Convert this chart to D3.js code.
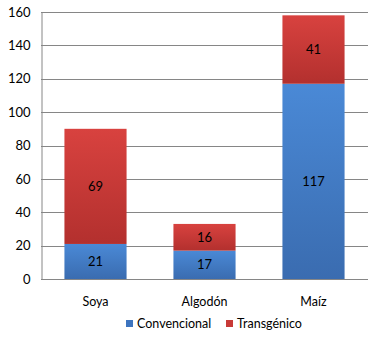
<!DOCTYPE html>
<html>
<head>
<meta charset="utf-8">
<script src="https://cdnjs.cloudflare.com/ajax/libs/d3/7.8.5/d3.min.js"></script>
<style>
  html, body { margin: 0; padding: 0; background: #fff; }
  text { font-family: Lato, "Open Sans", "Liberation Sans", sans-serif; }
</style>
</head>
<body>
<svg id="chart" width="377" height="342"></svg>
<script>
// Cultivos y superficie por tipo de semilla
const categories = ["Soya", "Algodón", "Maíz"];
const convencional = [21, 17, 117];
const transgenico = [69, 16, 41];
const seriesNames = ["Convencional", "Transgénico"];
const yTicks = [0, 20, 40, 60, 80, 100, 120, 140, 160];

const svg = d3.select("#chart");
const margin = { left: 41, right: 9, top: 12, bottom: 63 };
const W = 377, H = 342;
const FS = 12.5;

const x = d3.scaleBand()
  .domain(categories)
  .range([margin.left, W - margin.right])
  .paddingInner(0.43)
  .paddingOuter(0.215);

const y = d3.scaleLinear()
  .domain([0, 160])
  .range([H - margin.bottom, margin.top]);

// vertical gradients for the two series
const defs = svg.append("defs");
function grad(id, top, bottom) {
  const g = defs.append("linearGradient").attr("id", id)
    .attr("x1", 0).attr("y1", 0).attr("x2", 0).attr("y2", 1);
  g.append("stop").attr("offset", "0%").attr("stop-color", top);
  g.append("stop").attr("offset", "100%").attr("stop-color", bottom);
}
grad("gBlue", "#4a89d6", "#3a6cb0");
grad("gRed", "#d8423f", "#b3302e");
const fills = ["url(#gBlue)", "url(#gRed)"];
const swatch = ["#3d74bf", "#c83a37"];

// gridlines
svg.append("g")
  .selectAll("line")
  .data(yTicks)
  .join("line")
  .attr("x1", margin.left)
  .attr("x2", W - margin.right)
  .attr("y1", d => Math.round(y(d)) + 0.5)
  .attr("y2", d => Math.round(y(d)) + 0.5)
  .attr("stroke", "#868686")
  .attr("stroke-width", 1);

// y axis
const yAxis = d3.axisLeft(y).tickValues(yTicks).tickSize(0).tickPadding(11);
const ya = svg.append("g")
  .attr("transform", `translate(${margin.left + 0.5},0)`)
  .call(yAxis);
ya.select(".domain").attr("stroke", "#868686");
ya.selectAll("text").attr("font-size", 13).attr("fill", "#000")
  .style("font-family", "Lato, 'Open Sans', sans-serif");

// stacked data
const rows = categories.map((c, i) => ({ cat: c, Convencional: convencional[i], "Transgénico": transgenico[i] }));
const stacked = d3.stack().keys(seriesNames)(rows);

const barG = svg.append("g");
stacked.forEach((layer, si) => {
  barG.selectAll(null)
    .data(layer)
    .join("rect")
    .attr("x", d => x(d.data.cat))
    .attr("width", x.bandwidth())
    .attr("y", d => y(d[1]))
    .attr("height", d => y(d[0]) - y(d[1]))
    .attr("fill", fills[si]);

  barG.selectAll(null)
    .data(layer)
    .join("text")
    .attr("x", d => x(d.data.cat) + x.bandwidth() / 2)
    .attr("y", d => (y(d[0]) + y(d[1])) / 2)
    .attr("dy", "0.35em")
    .attr("text-anchor", "middle")
    .attr("font-size", 13)
    .attr("fill", "#000")
    .text(d => d[1] - d[0]);
});

// category labels
svg.append("g")
  .selectAll("text")
  .data(categories)
  .join("text")
  .attr("x", d => x(d) + x.bandwidth() / 2)
  .attr("y", 302)
  .attr("dy", "0.35em")
  .attr("text-anchor", "middle")
  .attr("font-size", FS)
  .attr("fill", "#000")
  .text(d => d);

// legend
const legendX = [126, 226];
const lg = svg.append("g");
seriesNames.forEach((n, i) => {
  lg.append("rect")
    .attr("x", legendX[i]).attr("y", 320)
    .attr("width", 7).attr("height", 7)
    .attr("fill", swatch[i]);
  lg.append("text")
    .attr("x", legendX[i] + 11).attr("y", 324)
    .attr("dy", "0.35em")
    .attr("font-size", FS)
    .attr("fill", "#000")
    .text(n);
});
</script>
</body>
</html>
